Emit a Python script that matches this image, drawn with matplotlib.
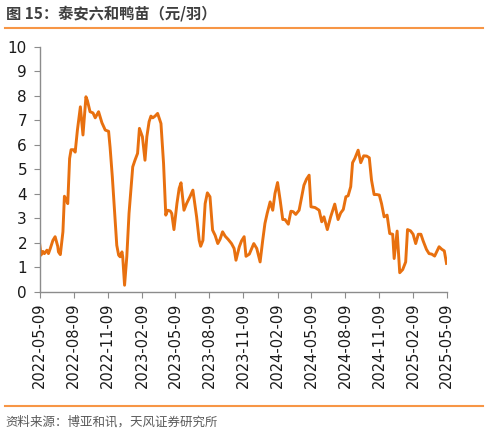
import matplotlib

matplotlib.use("Agg")
import matplotlib.dates as mdates
import matplotlib.pyplot as plt
import pandas as pd
from matplotlib.lines import Line2D

plt.rcParams["font.family"] = ["Noto Sans CJK SC", "DejaVu Sans"]

TITLE = "图 15：泰安六和鸭苗（元/羽）"
SOURCE = "资料来源：博亚和讯，天风证券研究所"

DATES = [
    "2022-05-09", "2022-05-13", "2022-05-18", "2022-05-22", "2022-05-29", "2022-06-02",
    "2022-06-07", "2022-06-14", "2022-06-20", "2022-06-27", "2022-06-29", "2022-07-04",
    "2022-07-11", "2022-07-15", "2022-07-19", "2022-07-24", "2022-07-29", "2022-08-02",
    "2022-08-08", "2022-08-13", "2022-08-19", "2022-08-27", "2022-09-03", "2022-09-11",
    "2022-09-15", "2022-09-22", "2022-09-30", "2022-10-06", "2022-10-15", "2022-10-24",
    "2022-11-02", "2022-11-11", "2022-11-15", "2022-11-21", "2022-12-03", "2022-12-08",
    "2022-12-12", "2022-12-17", "2022-12-19", "2022-12-24", "2022-12-30", "2023-01-05",
    "2023-01-15", "2023-01-21", "2023-01-28", "2023-02-02", "2023-02-10", "2023-02-17",
    "2023-02-22", "2023-02-28", "2023-03-05", "2023-03-10", "2023-03-16", "2023-03-23",
    "2023-04-01", "2023-04-08", "2023-04-14", "2023-04-19", "2023-04-26", "2023-04-30",
    "2023-05-06", "2023-05-14", "2023-05-20", "2023-05-25", "2023-06-02", "2023-06-09",
    "2023-06-18", "2023-06-26", "2023-07-06", "2023-07-13", "2023-07-17", "2023-07-23",
    "2023-07-29", "2023-08-04", "2023-08-11", "2023-08-18", "2023-08-25", "2023-09-01",
    "2023-09-07", "2023-09-14", "2023-09-21", "2023-09-29", "2023-10-08", "2023-10-15",
    "2023-10-20", "2023-10-29", "2023-11-04", "2023-11-11", "2023-11-16", "2023-11-25",
    "2023-12-07", "2023-12-15", "2023-12-24", "2023-12-31", "2024-01-06", "2024-01-12",
    "2024-01-20", "2024-01-27", "2024-02-02", "2024-02-09", "2024-02-16", "2024-02-23",
    "2024-02-29", "2024-03-09", "2024-03-16", "2024-03-22", "2024-03-29", "2024-04-07",
    "2024-04-14", "2024-04-20", "2024-04-27", "2024-05-04", "2024-05-09", "2024-05-20",
    "2024-05-31", "2024-06-07", "2024-06-13", "2024-06-22", "2024-07-01", "2024-07-12",
    "2024-07-21", "2024-07-28", "2024-08-04", "2024-08-11", "2024-08-17", "2024-08-24",
    "2024-08-29", "2024-09-04", "2024-09-13", "2024-09-20", "2024-09-28", "2024-10-06",
    "2024-10-13", "2024-10-19", "2024-10-26", "2024-11-02", "2024-11-09", "2024-11-15",
    "2024-11-22", "2024-11-30", "2024-12-07", "2024-12-15", "2024-12-19", "2024-12-27",
    "2025-01-03", "2025-01-11", "2025-01-19", "2025-01-24", "2025-02-01", "2025-02-08",
    "2025-02-15", "2025-02-22", "2025-03-01", "2025-03-07", "2025-03-16", "2025-03-23",
    "2025-03-30", "2025-04-07", "2025-04-19", "2025-04-26", "2025-05-03", "2025-05-09",
]

PRICES = [
    2.00, 1.50, 1.65, 1.56, 1.70, 1.56,
    1.77, 2.10, 2.25, 1.86, 1.63, 1.52,
    2.45, 3.90, 3.80, 3.60, 5.44, 5.80,
    5.80, 5.70, 6.60, 7.55, 6.40, 7.96,
    7.80, 7.35, 7.30, 7.10, 7.35, 6.90,
    6.60, 6.55, 5.90, 4.70, 1.90, 1.50,
    1.43, 1.63, 1.43, 0.27, 1.43, 3.20,
    5.10, 5.37, 5.65, 6.67, 6.33, 5.37,
    6.33, 6.94, 7.17, 7.10, 7.17, 7.28,
    6.87, 5.24, 3.13, 3.33, 3.30, 3.20,
    2.54, 3.60, 4.22, 4.45, 3.33, 3.60,
    3.88, 4.15, 3.06, 2.10, 1.86, 2.10,
    3.60, 4.04, 3.88, 2.52, 2.30, 1.97,
    2.14, 2.45, 2.27, 2.14, 1.97, 1.77,
    1.29, 1.84, 2.08, 2.25, 1.45, 1.54,
    1.97, 1.77, 1.22, 2.10, 2.79, 3.20,
    3.67, 3.33, 4.01, 4.46, 3.74, 2.95,
    2.95, 2.76, 3.29, 3.27, 3.16, 3.33,
    3.88, 4.35, 4.60, 4.76, 3.47, 3.44,
    3.33, 2.86, 3.06, 2.54, 3.06, 3.58,
    2.95, 3.22, 3.36, 3.88, 3.92, 4.29,
    5.27, 5.44, 5.78, 5.27, 5.55, 5.54,
    5.47, 4.56, 3.97, 3.97, 3.95, 3.60,
    3.06, 3.13, 2.38, 2.35, 1.36, 2.48,
    0.78, 0.91, 1.22, 2.54, 2.49, 2.35,
    1.97, 2.35, 2.35, 2.08, 1.73, 1.56,
    1.54, 1.46, 1.84, 1.74, 1.67, 1.16,
]

TICK_DATES = [
    "2022-05-09", "2022-08-09", "2022-11-09", "2023-02-09", "2023-05-09",
    "2023-08-09", "2023-11-09", "2024-02-09", "2024-05-09", "2024-08-09",
    "2024-11-09", "2025-02-09", "2025-05-09",
]

LINE_COLOR = "#E8700F"
RULE_COLOR = "#F79646"
AXIS_COLOR = "#8C8C8C"


def main() -> None:
    dates = pd.to_datetime(DATES)
    ticks = pd.to_datetime(TICK_DATES)

    fig = plt.figure(figsize=(4.88, 4.33), dpi=100)
    fig.patch.set_facecolor("white")
    ax = fig.add_axes((0.081, 0.326, 0.834, 0.566))

    ax.plot(dates, PRICES, color=LINE_COLOR, linewidth=2.1, solid_joinstyle="round")

    ax.set_xlim(ticks[0], ticks[-1])
    ax.set_ylim(0, 10)
    ax.set_yticks(range(0, 11))
    ax.set_xticks(ticks)
    ax.xaxis.set_major_formatter(mdates.DateFormatter("%Y-%m-%d"))
    ax.tick_params(axis="x", rotation=90, labelsize=10.5, length=4, color=AXIS_COLOR, pad=4)
    ax.tick_params(axis="y", labelsize=11, length=4, color=AXIS_COLOR, pad=5)
    for label in ax.get_xticklabels() + ax.get_yticklabels():
        label.set_color("#1a1a1a")
        label.set_family(["DejaVu Sans"])

    for side in ("top", "right"):
        ax.spines[side].set_visible(False)
    for side in ("left", "bottom"):
        ax.spines[side].set_color(AXIS_COLOR)
        ax.spines[side].set_linewidth(1.0)

    fig.text(0.012, 0.968, TITLE, fontsize=11, weight="bold", color="#3f3f3f", va="center", ha="left")
    fig.add_artist(Line2D([0.010, 0.990], [0.936, 0.936], transform=fig.transFigure,
                          color=RULE_COLOR, linewidth=1.5))
    fig.add_artist(Line2D([0.010, 0.990], [0.063, 0.063], transform=fig.transFigure,
                          color=RULE_COLOR, linewidth=1.5))
    fig.text(0.012, 0.025, SOURCE, fontsize=9, color="#595959", va="center", ha="left")

    fig.savefig("out.png", dpi=100)
    plt.close(fig)


if __name__ == "__main__":
    main()
